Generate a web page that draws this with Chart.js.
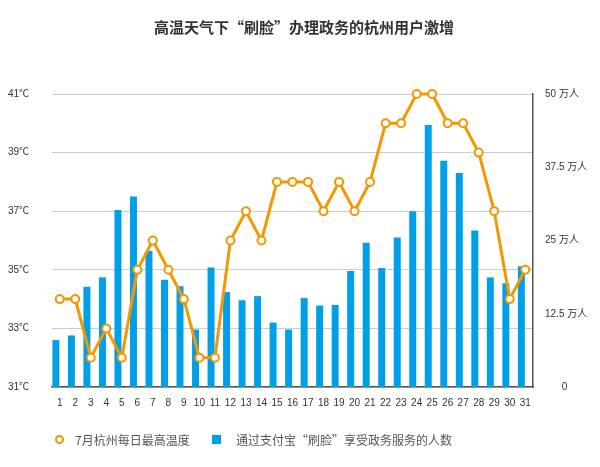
<!DOCTYPE html>
<html>
<head>
<meta charset="utf-8">
<script src="https://cdn.jsdelivr.net/npm/chart.js@4"></script>
<style>
  body { margin: 0; background: #fff; }
  #wrap { position: relative; width: 600px; height: 467px; }
  .legend { position: absolute; top: 429px; font: 12px "Noto Sans CJK SC", sans-serif; color: #555; }
  .legend span { display: inline-block; vertical-align: middle; }
  .dot { width: 5px; height: 5px; border: 2px solid #f39800; border-radius: 50%; margin-right: 11px; }
  .box { width: 9px; height: 9px; background: #00a0e9; margin-right: 15px; }
</style>
</head>
<body>
<div id="wrap">
  <canvas id="myChart" width="600" height="467"></canvas>
  <div class="legend" style="left:55px"><span class="dot"></span><span>7月杭州每日最高温度</span></div>
  <div class="legend" style="left:212px"><span class="box"></span><span>通过支付宝“刷脸”享受政务服务的人数</span></div>
</div>
<script>
// days of July
const days = [];
for (let d = 1; d <= 31; d++) days.push(String(d));

// daily max temperature (℃)
const maxTemp = [34, 34, 32, 33, 32, 35, 36, 35, 34, 32, 32, 36, 37, 36, 38, 38,
                 38, 37, 38, 37, 38, 40, 40, 41, 41, 40, 40, 39, 37, 34, 35];

// users served by face scan (万人)
const users = [8.0, 8.8, 17.1, 18.7, 30.2, 32.5, 23.2, 18.3, 17.2, 9.8, 20.4, 16.2, 14.8, 15.5, 11.0, 9.8,
               15.2, 13.9, 14.0, 19.8, 24.6, 20.3, 25.5, 30.0, 44.7, 38.6, 36.5, 26.7, 18.7, 17.7, 20.6];

const tempTicks = [31, 33, 35, 37, 39, 41];
const userTicks = [0, 12.5, 25, 37.5, 50];

const fontFamily = '"Liberation Sans", "Noto Sans CJK SC", sans-serif';

const ctx = document.getElementById('myChart');
const myChart = new Chart(ctx, {
  data: {
    labels: days,
    datasets: [{
      type: 'line',
      label: '7月杭州每日最高温度',
      data: maxTemp,
      yAxisID: 'yTemp',
      borderColor: '#f39800',
      borderWidth: 3,
      pointRadius: 4,
      pointBorderWidth: 2,
      pointBackgroundColor: '#fff',
      pointBorderColor: '#f39800',
      tension: 0,
      clip: false,
      order: 0
    }, {
      // empty slot so the real bars sit right of the day centre
      type: 'bar',
      label: '',
      data: days.map(() => null),
      yAxisID: 'yUsers',
      barPercentage: 0.9,
      categoryPercentage: 1,
      order: 2
    }, {
      type: 'bar',
      label: '通过支付宝“刷脸”享受政务服务的人数',
      data: users,
      yAxisID: 'yUsers',
      backgroundColor: '#00a0e9',
      barPercentage: 0.9,
      categoryPercentage: 1,
      order: 1
    }]
  },
  options: {
    responsive: false,
    animation: false,
    layout: { padding: { left: 8, right: 0, top: 0, bottom: 56 } },
    plugins: {
      legend: { display: false },
      tooltip: { enabled: false },
      title: {
        display: true,
        text: '高温天气下“刷脸”办理政务的杭州用户激增',
        color: '#333',
        font: { family: '"Noto Sans CJK SC", sans-serif', size: 15, weight: 'bold' },
        padding: { top: 18, bottom: 58 }
      }
    },
    scales: {
      x: {
        grid: { display: false },
        border: { color: '#555', width: 1.5 },
        ticks: { color: '#333', font: { family: fontFamily, size: 10 }, maxRotation: 0, autoSkip: false, padding: 2 },
        afterFit: (axis) => { axis.height = 24; }
      },
      yTemp: {
        position: 'left',
        min: 31,
        max: 41,
        afterBuildTicks: (axis) => { axis.ticks = tempTicks.map(v => ({ value: v })); },
        grid: { color: '#ccc', lineWidth: 1, drawTicks: false },
        border: { display: false },
        ticks: {
          color: '#333',
          font: { family: fontFamily, size: 10 },
          crossAlign: 'far',
          padding: 6,
          callback: (v) => v + '℃'
        },
        afterFit: (axis) => { axis.width = 44; }
      },
      yUsers: {
        position: 'right',
        min: 0,
        max: 50,
        afterBuildTicks: (axis) => { axis.ticks = userTicks.map(v => ({ value: v })); },
        grid: { display: false, drawTicks: false },
        border: { color: '#555', width: 1.5 },
        ticks: {
          color: '#333',
          font: { family: fontFamily, size: 10 },
          padding: 12,
          callback: (v) => v === 0 ? '      0' : v + ' 万人'
        },
        afterFit: (axis) => { axis.width = 67; }
      }
    }
  }
});
</script>
</body>
</html>
